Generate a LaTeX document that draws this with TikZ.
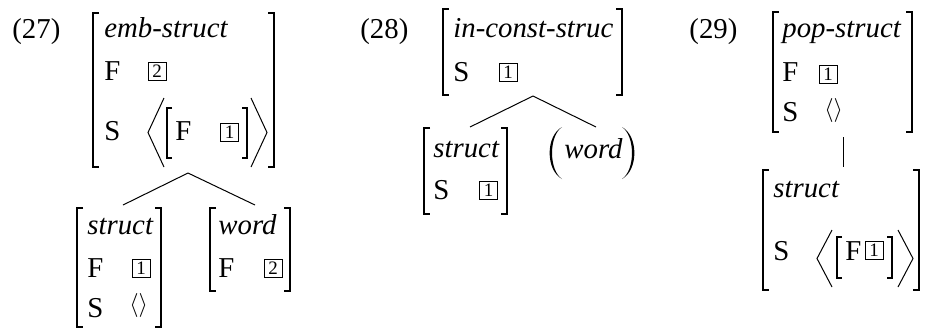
\documentclass[tikz,border=0pt]{standalone}
\usepackage{fontspec}
\setmainfont{Liberation Serif}
\usetikzlibrary{fit,calc}
\newcommand\sqbr[2]{%
  \draw[brk] ([xshift=#1]#2.north west) -- (#2.north west) -- (#2.south west) -- ([xshift=#1]#2.south west);
  \draw[brk] ([xshift=-#1]#2.north east) -- (#2.north east) -- (#2.south east) -- ([xshift=-#1]#2.south east);}
\newcommand\anglebr[2]{%
  \draw[ang] ([xshift=#1]#2.north west) -- (#2.west) -- ([xshift=#1]#2.south west);
  \draw[ang] ([xshift=-#1]#2.north east) -- (#2.east) -- ([xshift=-#1]#2.south east);}
\newcommand\parbr[1]{%
  \fill ($(#1.north west)+(12,0)$) .. controls ($(#1.west)+(-4.5,-17)$) and ($(#1.west)+(-4.5,17)$) .. ($(#1.south west)+(12,0)$)
        .. controls ($(#1.west)+(-1.3,17)$) and ($(#1.west)+(-1.3,-17)$) .. cycle;
  \fill ($(#1.north east)+(-12,0)$) .. controls ($(#1.east)+(4.5,-17)$) and ($(#1.east)+(4.5,17)$) .. ($(#1.south east)+(-12,0)$)
        .. controls ($(#1.east)+(1.3,17)$) and ($(#1.east)+(1.3,-17)$) .. cycle;}
\begin{document}
\begin{tikzpicture}[x=0.5pt,y=-0.5pt,
  txt/.style={inner sep=0pt, anchor=base west, font=\fontsize{14.4}{17}\selectfont},
  it/.style={inner sep=0pt, anchor=base west, font=\fontsize{14.4}{17}\selectfont\itshape},
  emp/.style={inner sep=0pt, anchor=base west, font=\fontsize{12}{14}\selectfont},
  tag/.style={draw, line width=0.4pt, inner sep=0pt, minimum size=9pt, font=\fontsize{9.5}{10}\selectfont},
  avm/.style={inner sep=0pt, outer sep=0pt, draw=none},
  brk/.style={line width=0.7pt},
  ang/.style={line width=0.5pt},
  tree/.style={line width=0.5pt}
]
\useasboundingbox (0,0) rectangle (926,329);

% ---------- (27)
\node[txt] (n27) at (12,38) {(27)};
\node[avm, fit={(93,13) (274,167)}] (A) {};
\sqbr{3pt}{A}
\node[it] (Aty) at (104,37) {emb-struct};
\node[txt] (AF) at (104,80) {F};
\node[tag] (At2) at (157,71) {2};
\node[txt] (AS) at (104,140) {S};
\node[avm, fit={(148,98) (267,167)}] (Alist) {};
\anglebr{8pt}{Alist}
\node[avm, fit={(167,108) (247,158)}] (Ain) {};
\sqbr{2.5pt}{Ain}
\node[txt] (AinF) at (175,140) {F};
\node[tag] (At1) at (229.5,132.5) {1};

\node[avm, fit={(77,208) (161,327)}] (B) {};
\sqbr{3pt}{B}
\node[it] (Bty) at (87,234) {struct};
\node[txt] (BF) at (87,277) {F};
\node[tag] (Bt1) at (141,268) {1};
\node[txt] (BS) at (87,317) {S};
\node[emp] (Bl) at (129,311) {$\langle\rangle$};

\node[avm, fit={(210,208) (290,291)}] (C) {};
\sqbr{3pt}{C}
\node[it] (Cty) at (218,234) {word};
\node[txt] (CF) at (218,277) {F};
\node[tag] (Ct2) at (273,268) {2};

\coordinate (Aroot) at ($(A.south)+(4.5,6)$);
\draw[tree] (Aroot) -- ($(B.north)+(4,-3)$);
\draw[tree] (Aroot) -- ($(C.north)+(5,-3)$);

% ---------- (28)
\node[txt] (n28) at (360,38) {(28)};
\node[avm, fit={(443,9) (622,95)}] (D) {};
\sqbr{3pt}{D}
\node[it] (Dty) at (453,37) {in-const-struc};
\node[txt] (DS) at (453,81) {S};
\node[tag] (Dt1) at (508,72) {1};

\node[avm, fit={(424,128) (507,214)}] (E) {};
\sqbr{3pt}{E}
\node[it] (Ety) at (433,157) {struct};
\node[txt] (ES) at (433,199) {S};
\node[tag] (Et1) at (488.5,190) {1};

\node[avm, fit={(550,127) (634,179)}] (P) {};
\parbr{P}
\node[it] (Pw) at (564,158) {word};

\coordinate (Droot) at ($(D.south)+(0.5,1)$);
\draw[tree] (Droot) -- ($(E.north)+(4.5,-1)$);
\draw[tree] (Droot) -- ($(P.north)+(4,0)$);

% ---------- (29)
\node[txt] (n29) at (689,38) {(29)};
\node[avm, fit={(773,12) (912,132)}] (F) {};
\sqbr{3pt}{F}
\node[it] (Fty) at (782,37) {pop-struct};
\node[txt] (FF) at (782,81) {F};
\node[tag] (Ft1) at (828,74) {1};
\node[txt] (FS) at (782,121) {S};
\node[emp] (Fl) at (824,116) {$\langle\rangle$};

\node[avm, fit={(763,170) (919,290)}] (G) {};
\sqbr{3pt}{G}
\node[it] (Gty) at (773,197) {struct};
\node[txt] (GS) at (773,260) {S};
\node[avm, fit={(817,230) (913,287)}] (Glist) {};
\anglebr{7.5pt}{Glist}
\node[avm, fit={(837,237) (892,278)}] (Gin) {};
\sqbr{2.5pt}{Gin}
\node[txt] (GinF) at (845,260) {F};
\node[tag] (Gt1) at (874,250) {1};

\draw[tree] ($(F.south)+(0.5,5)$) -- ($(F.south |- G.north)+(0.5,-3)$);
\end{tikzpicture}
\end{document}
